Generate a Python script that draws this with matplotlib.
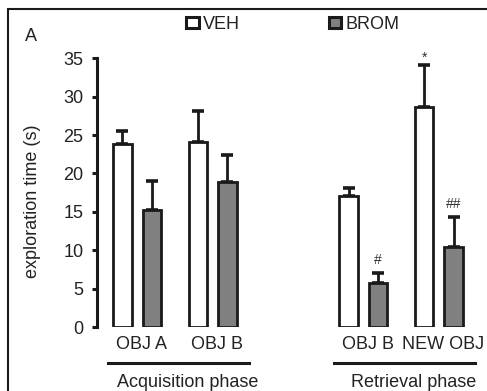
import numpy as np
import matplotlib
matplotlib.use("Agg")
import matplotlib.pyplot as plt
from matplotlib.patches import Patch, Rectangle

plt.rcParams["font.family"] = ["Liberation Sans", "DejaVu Sans"]

# data
categories = ["OBJ A", "OBJ B", "OBJ B", "NEW OBJ"]
phases = ["Acquisition phase", "Retrieval phase"]
veh_mean = [23.8, 24.1, 17.0, 28.7]
veh_sem = [1.7, 4.0, 1.1, 5.4]
brom_mean = [15.2, 18.9, 5.7, 10.4]
brom_sem = [3.8, 3.5, 1.3, 3.9]
veh_marks = ["", "", "", "*"]
brom_marks = ["", "", "#", "##"]
yticks = [0, 5, 10, 15, 20, 25, 30, 35]

# layout
W, H = 487, 391
pos = np.array([0, 2.6, 7.8, 10.4])
off = 0.51
bw = 0.64
edge = "#1a1a1a"
gray = "#808080"
txt = "#222222"
fs = 13

fig = plt.figure(figsize=(W / 100, H / 100), dpi=100)
ax = fig.add_axes([97 / W, (H - 327) / H, (480 - 97) / W, (327 - 58.3) / H])

# error bars (only upward), behind bars
for xs, m, e in [(pos - off, veh_mean, veh_sem), (pos + off, brom_mean, brom_sem)]:
    ax.errorbar(xs, m, yerr=[np.zeros(len(m)), e], fmt="none", ecolor=edge,
                elinewidth=2.0, capsize=4.3, capthick=2.6, zorder=1, clip_on=False)

ax.bar(pos - off, veh_mean, bw, color="white", edgecolor=edge, linewidth=2.0, zorder=2, label="VEH")
ax.bar(pos + off, brom_mean, bw, color=gray, edgecolor=edge, linewidth=2.0, zorder=2, label="BROM")

for xs, m, e, marks in [(pos - off, veh_mean, veh_sem, veh_marks), (pos + off, brom_mean, brom_sem, brom_marks)]:
    for x, mm, ee, s in zip(xs, m, e, marks):
        if s == "*":
            ax.text(x, mm + ee + 1.0, s, ha="center", va="center", fontsize=10, color="#333333", clip_on=False)
        elif s:
            ax.text(x, mm + ee + 1.75, s, ha="center", va="center", fontsize=10, color="#333333", clip_on=False)

ax.set_xlim(-1.388, 11.82)
ax.set_ylim(0, 35)
ax.set_yticks(yticks)
ax.set_xticks([])
for s in ["top", "right", "bottom"]:
    ax.spines[s].set_visible(False)
ax.spines["left"].set_linewidth(2.2)
ax.spines["left"].set_color(edge)
ax.tick_params(axis="y", direction="out", length=3.8, width=2.2, color=edge,
               labelsize=fs, labelcolor=txt, pad=6.0)
ax.set_ylabel("exploration time (s)", fontsize=fs, color=txt)
ax.yaxis.set_label_coords(-0.146, 0.469)

# category labels and phase lines
for x, c in zip(pos, categories):
    ax.text(x + 0.15, -2.25, c, ha="center", va="center", fontsize=fs, color=txt, clip_on=False)
for i, p in enumerate(phases):
    a, b = pos[2 * i] - 1.0, pos[2 * i + 1] + 1.25
    ax.plot([a, b], [-4.7, -4.7], color=edge, linewidth=2.2, clip_on=False)
    ax.text((a + b) / 2 + 0.3, -7.25, p, ha="center", va="center", fontsize=fs, color=txt, clip_on=False)

# legend
handles = [Patch(facecolor="white", edgecolor=edge, linewidth=2.2, label="VEH"),
           Patch(facecolor=gray, edgecolor=edge, linewidth=2.2, label="BROM")]
leg = fig.legend(handles=handles, ncol=2, loc="center left", bbox_to_anchor=(186 / W, 1 - 24.5 / H),
                 frameon=False, fontsize=fs, handlelength=0.7, handleheight=0.5,
                 handletextpad=0.25, columnspacing=4.9, borderpad=0, borderaxespad=0)
for t in leg.get_texts():
    t.set_color(txt)

fig.text(25 / W, 1 - 36.5 / H, "A", fontsize=fs, color=txt, va="center", ha="left")

# outer frame
fig.patches.append(Rectangle((8 / W, -0.05), 1.2, 1.05 - 9 / H, transform=fig.transFigure,
                             fill=False, edgecolor=edge, linewidth=1.5))

fig.savefig("out.png", dpi=100)
